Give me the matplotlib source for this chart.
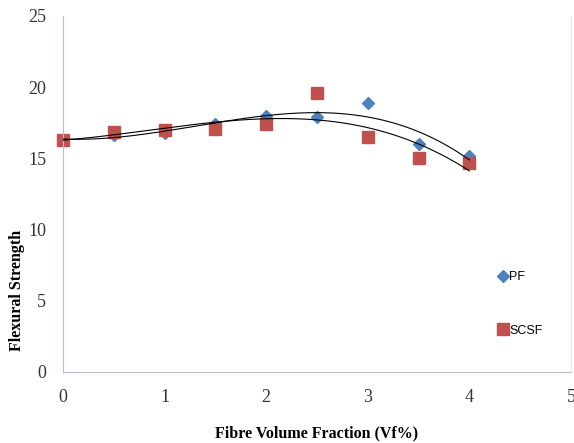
import numpy as np
import matplotlib
matplotlib.use("Agg")
import matplotlib.pyplot as plt

vf = [0, 0.5, 1, 1.5, 2, 2.5, 3, 3.5, 4]
pf = [16.3, 16.65, 16.8, 17.45, 17.98, 17.93, 18.87, 16.0, 15.15]
scsf = [16.3, 16.85, 16.97, 17.05, 17.4, 19.6, 16.52, 15.05, 14.65]
series = ['PF', 'SCSF']

fig = plt.figure(figsize=(5.74, 4.43), dpi=100)
ax = fig.add_axes([63/574, 1-372/443, (571-63)/574, (372-16)/443])

# 3rd order polynomial trendlines like the excel original
xs = np.linspace(0, 4, 200)
for y in (pf, scsf):
    c = np.polyfit(vf, y, 3)
    ax.plot(xs, np.polyval(c, xs), color='black', lw=0.8, zorder=3)

ax.plot(vf, pf, 'D', color='#4F81BD', ms=6.5, label=series[0], zorder=2, clip_on=False)
ax.plot(vf, scsf, 's', color='#C0504D', ms=8, label=series[1], zorder=2, clip_on=False)

ax.set_xlim(0, 5)
ax.set_ylim(0, 25)
ax.set_xticks(range(0, 6))
ax.set_yticks(range(0, 26, 5))
ax.spines['top'].set_visible(False)
ax.spines['right'].set_color('#E4E8F0')
ax.spines['left'].set_color('#B9C0CC')
ax.spines['bottom'].set_color('#B9C0CC')
ax.tick_params(length=0, labelsize=13, pad=12)
for lbl in ax.get_xticklabels() + ax.get_yticklabels():
    lbl.set_fontfamily('Liberation Serif')
    lbl.set_color('#333333')

fig.text(317/574, 1-433/443, 'Fibre Volume Fraction (Vf%)', ha='center', va='center',
         family='Liberation Serif', weight='bold', size=11.5)
fig.text(17/574, 1-290/443, 'Flexural Strength', ha='center', va='center', rotation=90,
         family='Liberation Serif', weight='bold', size=11.5)

leg = ax.legend(loc='upper left', bbox_to_anchor=(488/574, 1-260/443), bbox_transform=fig.transFigure,
                frameon=False, handlelength=0.6, handletextpad=0.2, labelspacing=3.3,
                prop={'family': 'Liberation Sans', 'size': 9})

plt.savefig('out.png', dpi=100)
